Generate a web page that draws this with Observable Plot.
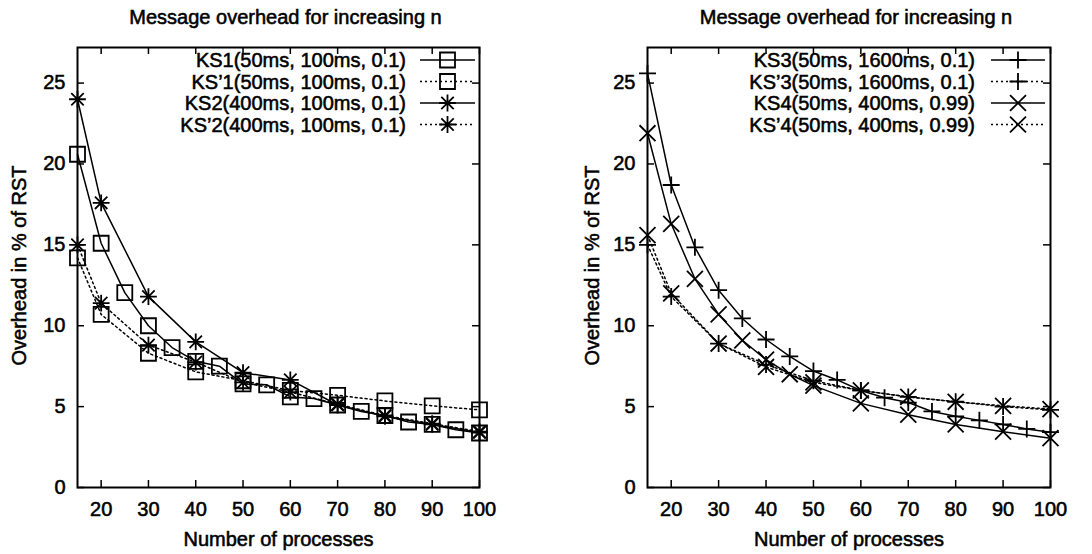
<!DOCTYPE html>
<html><head><meta charset="utf-8">
<script src="https://cdn.jsdelivr.net/npm/d3@7"></script>
<script src="https://cdn.jsdelivr.net/npm/@observablehq/plot@0.6"></script>
<style>
body{margin:0;background:#fff;}
#wrap{position:relative;width:1092px;height:554px;overflow:hidden;background:#fff;}
.panel{position:absolute;top:0;}
.legend{position:absolute;top:0;pointer-events:none;}
.panel text, .legend text{stroke:#000;stroke-width:0.55px;}
</style></head><body><div id="wrap"></div>
<script>
// ---------- data ----------
const xTicks = [20, 30, 40, 50, 60, 70, 80, 90, 100];
const yTicks = [0, 5, 10, 15, 20, 25];
const title = "Message overhead for increasing n";
const xLabel = "Number of processes";
const yLabel = "Overhead in % of RST";

const nStep5 = [15, 20, 25, 30, 35, 40, 45, 50, 55, 60, 65, 70, 75, 80, 85, 90, 95, 100];
const nStep10 = [15, 20, 30, 40, 50, 60, 70, 80, 90, 100];
const nKs4 = [15, 20, 25, 30, 35, 40, 45, 50, 60, 70, 80, 90, 100];

// left panel
const ks1Name = "KS1(50ms, 100ms, 0.1)";
const ks1 = [20.6, 15.1, 12.05, 10.0, 8.65, 7.8, 7.5, 6.4, 6.35, 5.6, 5.5, 5.1, 4.7, 4.45, 4.05, 3.9, 3.57, 3.37];
const ks1pName = "KS\u20191(50ms, 100ms, 0.1)";
const ks1p = [14.2, 10.7, 8.3, 7.15, 6.6, 6.0, 5.7, 5.35, 5.05, 4.8];
const ks2Name = "KS2(400ms, 100ms, 0.1)";
const ks2 = [24.0, 17.6, 11.8, 9.0, 7.1, 6.65, 5.1, 4.4, 3.9, 3.4];
const ks2pName = "KS\u20192(400ms, 100ms, 0.1)";
const ks2p = [15.0, 11.4, 8.8, 7.75, 6.5, 5.9, 5.15, 4.45, 3.95, 3.45];

// right panel
const ks3Name = "KS3(50ms, 1600ms, 0.1)";
const ks3 = [25.6, 18.7, 14.85, 12.2, 10.45, 9.15, 8.1, 7.2, 6.65, 6.0, 5.55, 5.25, 4.7, 4.4, 4.15, 3.9, 3.62, 3.42];
const ks3pName = "KS\u20193(50ms, 1600ms, 0.1)";
const ks3p = [15.0, 11.8, 8.9, 7.6, 6.6, 6.0, 5.6, 5.3, 5.0, 4.8];
const ks4Name = "KS4(50ms, 400ms, 0.99)";
const ks4 = [21.9, 16.3, 12.9, 10.7, 9.1, 7.9, 7.0, 6.3, 5.2, 4.5, 3.9, 3.45, 3.05];
const ks4pName = "KS\u20194(50ms, 400ms, 0.99)";
const ks4p = [15.6, 12.0, 8.9, 7.45, 6.5, 6.0, 5.6, 5.3, 5.05, 4.85];

// ---------- symbols (gnuplot style) ----------
const half = s => Math.sqrt(s / Math.PI);
const SYM = {
  square: {draw(c, s) { const h = half(s); c.moveTo(-h, -h); c.lineTo(h, -h); c.lineTo(h, h); c.lineTo(-h, h); c.closePath(); }},
  plus: {draw(c, s) { const h = half(s); c.moveTo(-h, 0); c.lineTo(h, 0); c.moveTo(0, -h); c.lineTo(0, h); }},
  times: {draw(c, s) { const h = half(s) * 0.95; c.moveTo(-h, -h); c.lineTo(h, h); c.moveTo(-h, h); c.lineTo(h, -h); }},
  star: {draw(c, s) { const h = half(s); const d = h * 0.74;
    c.moveTo(-h, 0); c.lineTo(h, 0); c.moveTo(0, -h); c.lineTo(0, h);
    c.moveTo(-d, -d); c.lineTo(d, d); c.moveTo(-d, d); c.lineTo(d, -d); }}
};
const SYMR = {square: 7.5, plus: 8.5, times: 8.4, star: 8.4};

const FONT = "'Liberation Sans', Arial, Helvetica, sans-serif";
const W = 546, H = 554, MT = 47, MB = 67;
const DOTTED = "2,3";

const panels = [
  {left: 0, ml: 77, mr: 67, titleDx: 7, yLabelDx: -58,
   series: [
     {name: ks1Name, n: nStep5, v: ks1, sym: "square", dash: null},
     {name: ks1pName, n: nStep10, v: ks1p, sym: "square", dash: DOTTED},
     {name: ks2Name, n: nStep10, v: ks2, sym: "star", dash: null},
     {name: ks2pName, n: nStep10, v: ks2p, sym: "star", dash: DOTTED}
   ],
   legend: {textRight: 406, lineX1: 420, lineX2: 475, markX: 447.5}},
  {left: 546, ml: 101, mr: 42, titleDx: 7, yLabelDx: -55,
   series: [
     {name: ks3Name, n: nStep5, v: ks3, sym: "plus", dash: null},
     {name: ks3pName, n: nStep10, v: ks3p, sym: "plus", dash: DOTTED},
     {name: ks4Name, n: nKs4, v: ks4, sym: "times", dash: null},
     {name: ks4pName, n: nStep10, v: ks4p, sym: "times", dash: DOTTED}
   ],
   legend: {textRight: 975 - 546, lineX1: 991 - 546, lineX2: 1045 - 546, markX: 1018 - 546}}
];

const wrap = document.getElementById("wrap");

for (const p of panels) {
  const fw = W - p.ml - p.mr, fh = H - MT - MB;
  const marks = [];
  for (const s of p.series) {
    const rows = s.n.map((n, i) => ({n, v: s.v[i]}));
    marks.push(Plot.line(rows, {x: "n", y: "v", stroke: "black", strokeWidth: 1.5,
      strokeDasharray: s.dash || undefined}));
    marks.push(Plot.dot(rows, {x: "n", y: "v", symbol: SYM[s.sym], r: SYMR[s.sym],
      stroke: "black", fill: "none", strokeWidth: 1.8}));
  }
  // inward ticks (mirrored)
  marks.push(Plot.tickY(yTicks, {y: d => d, stroke: "black", strokeWidth: 1.5, insetRight: fw - 7}));
  marks.push(Plot.tickY(yTicks, {y: d => d, stroke: "black", strokeWidth: 1.5, insetLeft: fw - 7}));
  marks.push(Plot.tickX(xTicks, {x: d => d, stroke: "black", strokeWidth: 1.5, insetTop: fh - 7}));
  marks.push(Plot.tickX(xTicks, {x: d => d, stroke: "black", strokeWidth: 1.5, insetBottom: fh - 7}));
  marks.push(Plot.frame({stroke: "black", strokeWidth: 2}));
  marks.push(Plot.text([title], {text: d => d, frameAnchor: "top", lineAnchor: "middle", textAnchor: "middle",
    dy: -30, dx: p.titleDx, fontSize: 20, fill: "black"}));
  marks.push(Plot.text([xLabel], {text: d => d, frameAnchor: "bottom", lineAnchor: "middle", textAnchor: "middle",
    dy: 52, fontSize: 20, fill: "black"}));
  marks.push(Plot.text([yLabel], {text: d => d, frameAnchor: "left", lineAnchor: "middle", textAnchor: "middle",
    dx: p.yLabelDx, dy: -2, rotate: -90, fontSize: 20, fill: "black"}));

  const svg = Plot.plot({
    width: W, height: H,
    marginLeft: p.ml, marginRight: p.mr, marginTop: MT, marginBottom: MB,
    style: {fontFamily: FONT, fontSize: "20px", color: "black", background: "white", overflow: "visible"},
    x: {domain: [15, 100], ticks: xTicks, tickSize: 0, tickPadding: 14, label: null},
    y: {domain: [0, 27.2], ticks: yTicks, tickSize: 0, tickPadding: 12, label: null},
    marks
  });
  svg.classList.add("panel");
  svg.style.left = p.left + "px";
  wrap.appendChild(svg);

  // legend overlay (key samples)
  const lg = d3.select(wrap).append("svg").attr("class", "legend")
    .attr("width", W).attr("height", 160).style("left", p.left + "px")
    .style("font-family", FONT).style("font-size", "20px");
  const rowY = [60, 81.5, 103, 124.5];
  p.series.forEach((s, i) => {
    const y = rowY[i];
    lg.append("text").attr("x", p.legend.textRight).attr("y", y).attr("dy", "0.35em")
      .attr("text-anchor", "end").attr("fill", "black").text(s.name);
    lg.append("line").attr("x1", p.legend.lineX1).attr("x2", p.legend.lineX2)
      .attr("y1", y).attr("y2", y).attr("stroke", "black").attr("stroke-width", 1.5)
      .attr("stroke-dasharray", s.dash || null);
    lg.append("path").attr("transform", `translate(${p.legend.markX},${y})`)
      .attr("d", d3.symbol(SYM[s.sym], SYMR[s.sym] ** 2 * Math.PI)())
      .attr("fill", "none").attr("stroke", "black").attr("stroke-width", 1.8);
  });
}
</script></body></html>
